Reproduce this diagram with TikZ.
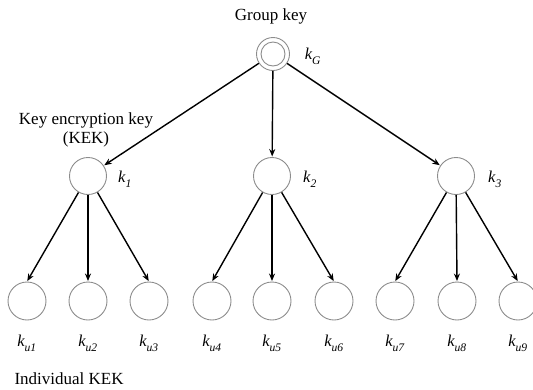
\documentclass[tikz,border=0pt]{standalone}
\usepackage{fontspec}
\setmainfont{Liberation Serif}
\usetikzlibrary{arrows.meta}
\begin{document}
\begin{tikzpicture}[x=1pt,y=-1pt,
  keynode/.style={circle,draw=black!45,line width=0.9pt,minimum size=37pt,inner sep=0pt},
  leafnode/.style={keynode,minimum size=38pt},
  rootnode/.style={keynode,minimum size=33pt},
  edge/.style={-{Stealth[length=7.5pt,width=6pt]},line width=1.4pt,shorten >=0.5pt},
  lbl/.style={font=\fontsize{17}{19}\selectfont},
  klbl/.style={font=\fontsize{16.5}{18}\selectfont\itshape}]
\useasboundingbox (0,0) rectangle (533,389);

% root (group key): two concentric rings
\node[rootnode] (g) at (273,54) {};
\node[keynode,minimum size=24pt] (gi) at (g.center) {};
\node[klbl] (gl) at (313,56) {k\textsubscript{\raisebox{-0.5ex}{G}}};
\node[lbl] (gt) at (271,16) {Group key};

% second level (KEKs)
\node[keynode] (k1) at (88,176) {};
\node[keynode] (k2) at (272,176) {};
\node[keynode] (k3) at (456,176) {};
\node[klbl] (k1l) at (125,179) {k\textsubscript{\raisebox{-0.5ex}{1}}};
\node[klbl] (k2l) at (310,179) {k\textsubscript{\raisebox{-0.5ex}{2}}};
\node[klbl] (k3l) at (495,179) {k\textsubscript{\raisebox{-0.5ex}{3}}};
\node[lbl,align=center] (kek) at (86,130) {Key encryption key\\(KEK)};

% leaves (individual KEKs)
\foreach \i/\x in {1/27,2/88,3/149,4/212,5/272,6/334,7/395,8/457,9/518}{
  \node[leafnode] (u\i) at (\x,301) {};
  \node[klbl] (u\i l) at (\x,343) {k\textsubscript{\raisebox{-0.5ex}{u\i}}};
}
\node[lbl,anchor=west] (ind) at (11,379) {Individual KEK};

% arrows
\draw[edge] (g) -- (k1);
\draw[edge] (g) -- (k2);
\draw[edge] (g) -- (k3);
\foreach \p/\a/\b/\c in {k1/1/2/3,k2/4/5/6,k3/7/8/9}{
  \draw[edge] (\p) -- (u\a.north);
  \draw[edge] (\p) -- (u\b.north);
  \draw[edge] (\p) -- (u\c.north);
}
\end{tikzpicture}
\end{document}
